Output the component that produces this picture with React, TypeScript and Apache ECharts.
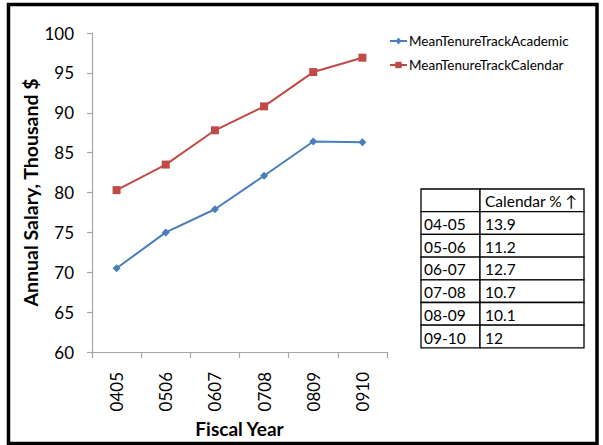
import React, { useEffect, useRef } from "react";
import * as echarts from "echarts";

const categories = ["0405", "0506", "0607", "0708", "0809", "0910"];
const academic = [70.5, 75.0, 77.9, 82.1, 86.4, 86.3];
const calendar = [80.3, 83.5, 87.8, 90.8, 95.1, 96.9];
const seriesNames = ["MeanTenureTrackAcademic", "MeanTenureTrackCalendar"];
const tableHeader = ["", "Calendar % ↑"];
const tableYears = ["04-05", "05-06", "06-07", "07-08", "08-09", "09-10"];
const tablePct = ["13.9", "11.2", "12.7", "10.7", "10.1", "12"];

const FONT = "Lato, 'Open Sans', sans-serif";

export default function App() {
  const ref = useRef<HTMLDivElement>(null);
  useEffect(() => {
    document.body.style.margin = "0";
    if (!ref.current) return;
    const chart = echarts.init(ref.current, undefined, { renderer: "svg" });

    const tx0 = 421, tx1 = 480, tx2 = 584, ty0 = 189, rowH = 22.7;
    const tableEls: any[] = [];
    const rows = [tableHeader, ...tableYears.map((y, i) => [y, tablePct[i]])];
    rows.forEach((r, i) => {
      const y = ty0 + i * rowH;
      tableEls.push({
        type: "rect",
        shape: { x: tx0, y, width: tx1 - tx0, height: rowH },
        style: { fill: "#fff", stroke: "#000", lineWidth: 1.3 },
      });
      tableEls.push({
        type: "rect",
        shape: { x: tx1, y, width: tx2 - tx1, height: rowH },
        style: { fill: "#fff", stroke: "#000", lineWidth: 1.3 },
      });
      if (r[0])
        tableEls.push({
          type: "text",
          x: tx0 + 3,
          y: y + rowH / 2 + 1,
          style: { text: r[0], font: `15.5px ${FONT}`, fill: "#000", verticalAlign: "middle", align: "left" },
        });
      tableEls.push({
        type: "text",
        x: tx1 + 5,
        y: y + rowH / 2 + 1,
        style: { text: r[1], font: `15.5px ${FONT}`, fill: "#000", verticalAlign: "middle", align: "left" },
      });
    });

    chart.setOption({
      animation: false,
      backgroundColor: "#fff",
      grid: { left: 92, top: 33, right: 216, bottom: 93, containLabel: false },
      legend: {
        orient: "vertical",
        left: 384,
        top: 29,
        itemWidth: 17,
        itemHeight: 8,
        itemGap: 10,
        textStyle: { fontFamily: FONT, fontSize: 13.5, color: "#000", padding: [0, 0, 0, -3] },
        data: seriesNames,
      },
      xAxis: {
        type: "category",
        data: categories,
        boundaryGap: true,
        name: "Fiscal Year",
        nameLocation: "middle",
        nameGap: 61,
        nameTextStyle: { fontFamily: FONT, fontSize: 19, fontWeight: "bold", color: "#000" },
        axisLine: { lineStyle: { color: "#a6a6a6", width: 1.2 } },
        axisTick: { show: true, length: 6, lineStyle: { color: "#a6a6a6", width: 1.2 } },
        axisLabel: { rotate: 90, margin: 20, fontFamily: FONT, fontSize: 17, color: "#000" },
        splitLine: { show: false },
      },
      yAxis: {
        type: "value",
        min: 60,
        max: 100,
        interval: 5,
        name: "Annual Salary, Thousand $",
        nameLocation: "middle",
        nameGap: 49,
        nameTextStyle: { fontFamily: FONT, fontSize: 19.5, fontWeight: "bold", color: "#000" },
        axisLine: { show: true, lineStyle: { color: "#a6a6a6", width: 1.2 } },
        axisTick: { show: true, length: 5, lineStyle: { color: "#a6a6a6", width: 1.2 } },
        axisLabel: { margin: 18, fontFamily: FONT, fontSize: 17, color: "#000" },
        splitLine: { show: false },
      },
      series: [
        {
          name: seriesNames[0],
          type: "line",
          data: academic,
          symbol: "diamond",
          symbolSize: 8,
          lineStyle: { color: "#4a7ebb", width: 2 },
          itemStyle: { color: "#4a7ebb" },
        },
        {
          name: seriesNames[1],
          type: "line",
          data: calendar,
          symbol: "rect",
          symbolSize: 8,
          lineStyle: { color: "#be4b48", width: 2 },
          itemStyle: { color: "#be4b48" },
        },
      ],
      graphic: [
        {
          type: "rect",
          shape: { x: 8.5, y: 4.5, width: 588.5, height: 439 },
          style: { fill: "none", stroke: "#000", lineWidth: 3.5 },
          silent: true,
        },
        ...tableEls,
      ],
    });
    return () => chart.dispose();
  }, []);
  return <div ref={ref} style={{ width: 603, height: 445 }} />;
}
